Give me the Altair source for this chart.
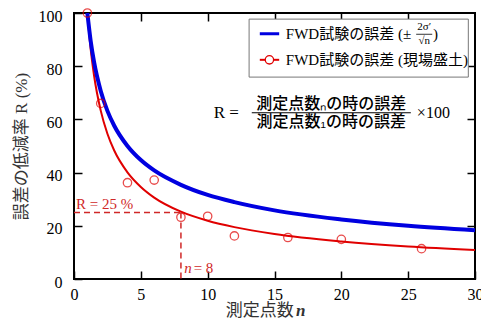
import altair as alt
import pandas as pd

# ---- data ----
curve_n = [1, 1.25, 1.5, 2, 2.5, 3, 4, 5, 6, 8, 10, 12, 15, 20, 25, 30]
blue_r = [100, 89.4, 81.6, 70.7, 63.2, 57.7, 50.0, 44.7, 40.8, 35.4, 31.6, 28.9, 25.8, 22.4, 20.0, 18.3]
red_r = [100, 86.3, 76.5, 63.3, 54.6, 48.4, 40.1, 34.6, 30.6, 25.3, 21.9, 19.5, 16.9, 14.1, 12.2, 10.9]

obs_n = [1, 2, 4, 6, 8, 10, 12, 16, 20, 26]
obs_r = [100, 66, 36.2, 37.2, 23.2, 23.6, 16.2, 15.6, 14.9, 11.4]

x_ticks = [0, 5, 10, 15, 20, 25, 30]
y_ticks = [0, 20, 40, 60, 80, 100]

SERIF = "'Liberation Serif', 'Times New Roman', 'Noto Sans CJK JP', serif"
JP = "'Noto Sans CJK JP', sans-serif"
BLUE = "#0000e0"
RED = "#e00000"
DRED = "#d02828"

xs = alt.Scale(domain=[0, 30], nice=False)
ys = alt.Scale(domain=[0, 100], nice=False)

curves = pd.DataFrame({"n": curve_n, "blue": blue_r, "red": red_r})
obs = pd.DataFrame({"n": obs_n, "r": obs_r})

ax_x = alt.Axis(orient="bottom", values=x_ticks, offset=-8, tickSize=8, domain=False,
                grid=False, labelPadding=7, title=None, labelFont=SERIF, labelFontSize=16,
                labelColor="black", tickColor="black", tickWidth=1.5, labelFlush=False,
                labelOverlap=False)
ax_y = alt.Axis(orient="left", values=y_ticks, offset=-8, tickSize=8, domain=False,
                grid=False, labelPadding=12, labelOffset=3, title="誤差の低減率 R (%)",
                titleFont=SERIF, titleFontSize=17, titleFontWeight="normal", titleColor="#333",
                titlePadding=8, labelFont=SERIF, labelFontSize=16, labelColor="black",
                tickColor="black", tickWidth=1.5, labelFlush=False, labelOverlap=False)
ax_top = alt.Axis(orient="top", values=[5, 10, 15, 20, 25], offset=-8, tickSize=8,
                  domain=False, grid=False, labels=False, title=None,
                  tickColor="black", tickWidth=1.5)
ax_right = alt.Axis(orient="right", values=[20, 40, 60, 80], offset=-8, tickSize=8,
                    domain=False, grid=False, labels=False, title=None,
                    tickColor="black", tickWidth=1.5)

base = alt.Chart(curves)

red_line = base.mark_line(color=RED, strokeWidth=2, interpolate="monotone").encode(
    x=alt.X("n:Q", scale=xs, axis=ax_x),
    y=alt.Y("red:Q", scale=ys, axis=ax_y),
)
blue_line = base.mark_line(color=BLUE, strokeWidth=4, interpolate="monotone").encode(
    x=alt.X("n:Q", scale=xs, axis=None),
    y=alt.Y("blue:Q", scale=ys, axis=None),
)
mirror = base.mark_point(opacity=0).encode(
    x=alt.X("n:Q", scale=xs, axis=ax_top),
    y=alt.Y("blue:Q", scale=ys, axis=ax_right),
)
points = alt.Chart(obs).mark_point(shape="circle", filled=False, color=RED, size=70,
                                   strokeWidth=1.3).encode(
    x=alt.X("n:Q", scale=xs, axis=None),
    y=alt.Y("r:Q", scale=ys, axis=None),
)

# dashed guides (R = 25 % at n = 8)
hdash = alt.Chart(pd.DataFrame({"x": [0], "x2": [8], "y": [25]})).mark_rule(
    color=DRED, strokeWidth=1.5, strokeDash=[6, 4]).encode(
    x=alt.X("x:Q", scale=xs, axis=None), x2="x2:Q", y=alt.Y("y:Q", scale=ys, axis=None))
vdash = alt.Chart(pd.DataFrame({"x": [8], "y": [25], "y2": [0]})).mark_rule(
    color=DRED, strokeWidth=1.5, strokeDash=[6, 4]).encode(
    x=alt.X("x:Q", scale=xs, axis=None), y=alt.Y("y:Q", scale=ys, axis=None), y2="y2:Q")


def text_layer(df, **kw):
    return alt.Chart(df).mark_text(**kw).encode(
        x=alt.X("x:Q", scale=xs, axis=None),
        y=alt.Y("y:Q", scale=ys, axis=None),
        text="t:N",
    )


r25 = text_layer(pd.DataFrame({"x": [0.15], "y": [28.2], "t": ["R = 25 %"]}),
                 align="left", baseline="middle", font=SERIF, fontSize=15, color=DRED)
n8a = text_layer(pd.DataFrame({"x": [8.25], "y": [4.1], "t": ["n"]}),
                 align="left", baseline="middle", font=SERIF, fontSize=15, color=DRED,
                 fontStyle="italic")
n8b = text_layer(pd.DataFrame({"x": [8.95], "y": [4.1], "t": ["= 8"]}),
                 align="left", baseline="middle", font=SERIF, fontSize=15, color=DRED)

# x-axis title
xt1 = text_layer(pd.DataFrame({"x": [13.9], "y": [-12.2], "t": ["測定点数"]}),
                 align="center", baseline="middle", font=SERIF, fontSize=17, color="#333")
xt2 = text_layer(pd.DataFrame({"x": [16.6], "y": [-12.2], "t": ["n"]}),
                 align="left", baseline="middle", font=SERIF, fontSize=17, color="#333",
                 fontStyle="italic", fontWeight="bold")

# formula
f_r = text_layer(pd.DataFrame({"x": [10.45], "y": [62.5], "t": ["R ="]}),
                 align="left", baseline="middle", font=SERIF, fontSize=17, color="black")
f_num = text_layer(pd.DataFrame({"x": [19.25], "y": [62.9], "t": ["測定点数ₙの時の誤差"]}),
                   align="center", baseline="bottom", font=JP, fontSize=16, color="black",
                   fontWeight=500)
f_den = text_layer(pd.DataFrame({"x": [19.25], "y": [62.0], "t": ["測定点数₁の時の誤差"]}),
                   align="center", baseline="top", font=JP, fontSize=16, color="black",
                   fontWeight=500)
f_bar = alt.Chart(pd.DataFrame({"x": [13.3], "x2": [25.2], "y": [62.5]})).mark_rule(
    color="black", strokeWidth=1).encode(
    x=alt.X("x:Q", scale=xs, axis=None), x2="x2:Q", y=alt.Y("y:Q", scale=ys, axis=None))
f_100 = text_layer(pd.DataFrame({"x": [25.65], "y": [62.5], "t": ["×100"]}),
                   align="left", baseline="middle", font=SERIF, fontSize=16, color="black")

# legend
leg_box = alt.Chart(pd.DataFrame({"x": [13.1], "x2": [29.5], "y": [75.9], "y2": [97.7]})).mark_rect(
    fill="white", stroke="#777", strokeWidth=1).encode(
    x=alt.X("x:Q", scale=xs, axis=None), x2="x2:Q",
    y=alt.Y("y:Q", scale=ys, axis=None), y2="y2:Q")
leg_lines = alt.Chart(pd.DataFrame({"x": [13.9, 13.9], "x2": [15.35, 15.35], "y": [92.2, 82.4],
                                    "c": ["b", "r"]})).mark_rule().encode(
    x=alt.X("x:Q", scale=xs, axis=None), x2="x2:Q", y=alt.Y("y:Q", scale=ys, axis=None),
    color=alt.Color("c:N", scale=alt.Scale(domain=["b", "r"], range=[BLUE, RED]), legend=None),
    strokeWidth=alt.StrokeWidth("c:N", scale=alt.Scale(domain=["b", "r"], range=[3, 2]), legend=None))
leg_pt = alt.Chart(pd.DataFrame({"x": [14.62], "y": [82.4]})).mark_point(
    shape="circle", filled=True, fill="white", stroke=RED, size=70, strokeWidth=1.3, opacity=1).encode(
    x=alt.X("x:Q", scale=xs, axis=None), y=alt.Y("y:Q", scale=ys, axis=None))
leg_t1 = text_layer(pd.DataFrame({"x": [15.85], "y": [92.2], "t": ["FWD試験の誤差 (±"]}),
                    align="left", baseline="middle", font=SERIF, fontSize=15, color="black")
leg_num = text_layer(pd.DataFrame({"x": [26.2], "y": [94.6], "t": ["2σ′"]}),
                     align="center", baseline="middle", font=SERIF, fontSize=11, color="black")
leg_den = text_layer(pd.DataFrame({"x": [26.2], "y": [89.4], "t": ["√n"]}),
                     align="center", baseline="middle", font=SERIF, fontSize=11, color="black")
leg_bar = alt.Chart(pd.DataFrame({"x": [25.6], "x2": [26.8], "y": [92.0]})).mark_rule(
    color="black", strokeWidth=0.8).encode(
    x=alt.X("x:Q", scale=xs, axis=None), x2="x2:Q", y=alt.Y("y:Q", scale=ys, axis=None))
leg_close = text_layer(pd.DataFrame({"x": [26.85], "y": [92.2], "t": [")"]}),
                       align="left", baseline="middle", font=SERIF, fontSize=15, color="black")
leg_t2 = text_layer(pd.DataFrame({"x": [15.85], "y": [82.4], "t": ["FWD試験の誤差 (現場盛土)"]}),
                    align="left", baseline="middle", font=SERIF, fontSize=15, color="black")

chart = alt.layer(
    red_line, blue_line, mirror, points, hdash, vdash, r25, n8a, n8b, xt1, xt2,
    f_r, f_num, f_den, f_bar, f_100,
    leg_box, leg_lines, leg_pt, leg_t1, leg_num, leg_den, leg_bar, leg_close, leg_t2,
).resolve_axis(x="independent", y="independent").properties(
    width=401, height=266,
    autosize=alt.AutoSizeParams(type="none"),
    padding={"left": 66, "top": 5, "right": 6, "bottom": 40},
).configure_view(stroke="black", strokeWidth=2)

chart.save("out.html", embed_options={"renderer": "svg", "actions": False})
